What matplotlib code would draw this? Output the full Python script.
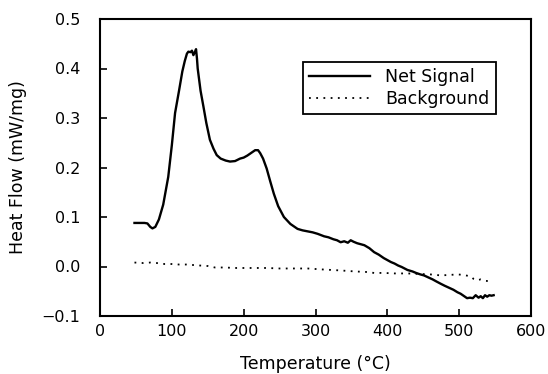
import matplotlib
matplotlib.use("Agg")
import matplotlib.pyplot as plt

# Net signal (Temperature °C, Heat Flow mW/mg)
net_T = [48, 55, 62, 66, 70, 73, 77, 82, 88, 95, 100, 104.5, 110, 114.6, 118, 121, 123, 126, 128, 130,
         132, 133.7, 135, 136, 140, 144, 148, 153, 158, 162.5, 168, 175, 181, 188, 195, 200,
         205, 210, 216, 220, 223, 227, 232, 237, 242, 248, 256, 265, 275, 282, 289, 296, 303,
         312, 318, 325, 330, 335, 340, 345, 349, 353, 358, 363, 368, 375, 381.6, 388, 395, 400,
         405, 410, 415, 420, 428, 435, 440, 446, 451, 457, 463, 468, 474.5, 480, 486, 492, 497.6,
         502, 507, 511, 515, 519, 523, 527, 530, 533, 536, 539, 542, 545, 548]
net_H = [0.088, 0.088, 0.088, 0.087, 0.080, 0.077, 0.080, 0.095, 0.125, 0.181, 0.245, 0.310, 0.355, 0.394,
         0.415, 0.430, 0.434, 0.433, 0.436, 0.427, 0.433, 0.439, 0.420, 0.400, 0.355, 0.323, 0.290,
         0.256, 0.238, 0.225, 0.218, 0.214, 0.212, 0.213, 0.218, 0.220, 0.224, 0.229, 0.235,
         0.235, 0.229, 0.218, 0.198, 0.172, 0.147, 0.122, 0.100, 0.086, 0.076, 0.073, 0.071,
         0.069, 0.066, 0.061, 0.059, 0.055, 0.053, 0.049, 0.051, 0.048, 0.053, 0.050, 0.047,
         0.045, 0.043, 0.037, 0.029, 0.024, 0.017, 0.013, 0.009, 0.006, 0.002, -0.001, -0.007,
         -0.010, -0.013, -0.016, -0.018, -0.022, -0.026, -0.030, -0.035, -0.039, -0.043, -0.047,
         -0.052, -0.055, -0.060, -0.064, -0.063, -0.064, -0.058, -0.063, -0.060, -0.064, -0.058,
         -0.061, -0.058, -0.059, -0.058]

# Background
bg_T = [48, 60, 70, 79, 90, 100, 110, 120, 139, 150, 160, 175, 186, 200, 215, 232, 250, 270, 289,
        310, 335, 355, 370, 381.6, 395, 410, 428, 445, 460, 474.5, 487, 497.6, 506, 516, 520, 525,
        530, 537, 544]
bg_H = [0.008, 0.007, 0.008, 0.007, 0.005, 0.005, 0.004, 0.004, 0.002, 0.001, -0.002, -0.002, -0.003,
        -0.003, -0.003, -0.003, -0.004, -0.004, -0.004, -0.006, -0.008, -0.010, -0.011, -0.013,
        -0.013, -0.014, -0.014, -0.015, -0.016, -0.018, -0.017, -0.016, -0.017, -0.020, -0.025,
        -0.028, -0.026, -0.029, -0.030]

x_ticks = [0, 100, 200, 300, 400, 500, 600]
y_ticks = [-0.1, 0.0, 0.1, 0.2, 0.3, 0.4, 0.5]

plt.rcParams['font.family'] = ['DejaVu Sans']
fig = plt.figure(figsize=(5.48, 3.74), dpi=100)
ax = fig.add_axes([100/548, 1 - 316/374, 431/548, 297/374])

ax.plot(net_T, net_H, color='black', lw=1.7, label='Net Signal')
ax.plot(bg_T, bg_H, color='black', lw=1.3, linestyle=(0, (1, 3)), label='Background')

ax.set_xlim(0, 600)
ax.set_ylim(-0.1, 0.5)
ax.set_xticks(x_ticks)
ax.set_xticklabels([str(v) for v in x_ticks])
ax.set_yticks(y_ticks)
ax.set_yticklabels([f"{v:.1f}".replace('-', '\u2212') for v in y_ticks])
ax.tick_params(direction='in', length=5, width=1.2, labelsize=11.5)
ax.tick_params(axis='x', pad=6)
ax.tick_params(axis='y', pad=14)
for s in ax.spines.values():
    s.set_linewidth(1.5)

ax.set_xlabel('Temperature (\u00b0C)', fontsize=12.5)
ax.xaxis.set_label_coords(0.5, -0.13)
ax.set_ylabel('Heat Flow (mW/mg)', fontsize=12.5)
ax.yaxis.set_label_coords(-0.17, 0.5)

leg = ax.legend(loc='upper left', bbox_to_anchor=(203/431, 1 - 43/297), fontsize=12.5,
                frameon=True, fancybox=False, edgecolor='black', framealpha=1,
                handlelength=3.5, borderpad=0.35, labelspacing=0.25, handletextpad=0.9,
                borderaxespad=0)
leg.get_frame().set_linewidth(1.3)

fig.savefig('out.png', dpi=100)
